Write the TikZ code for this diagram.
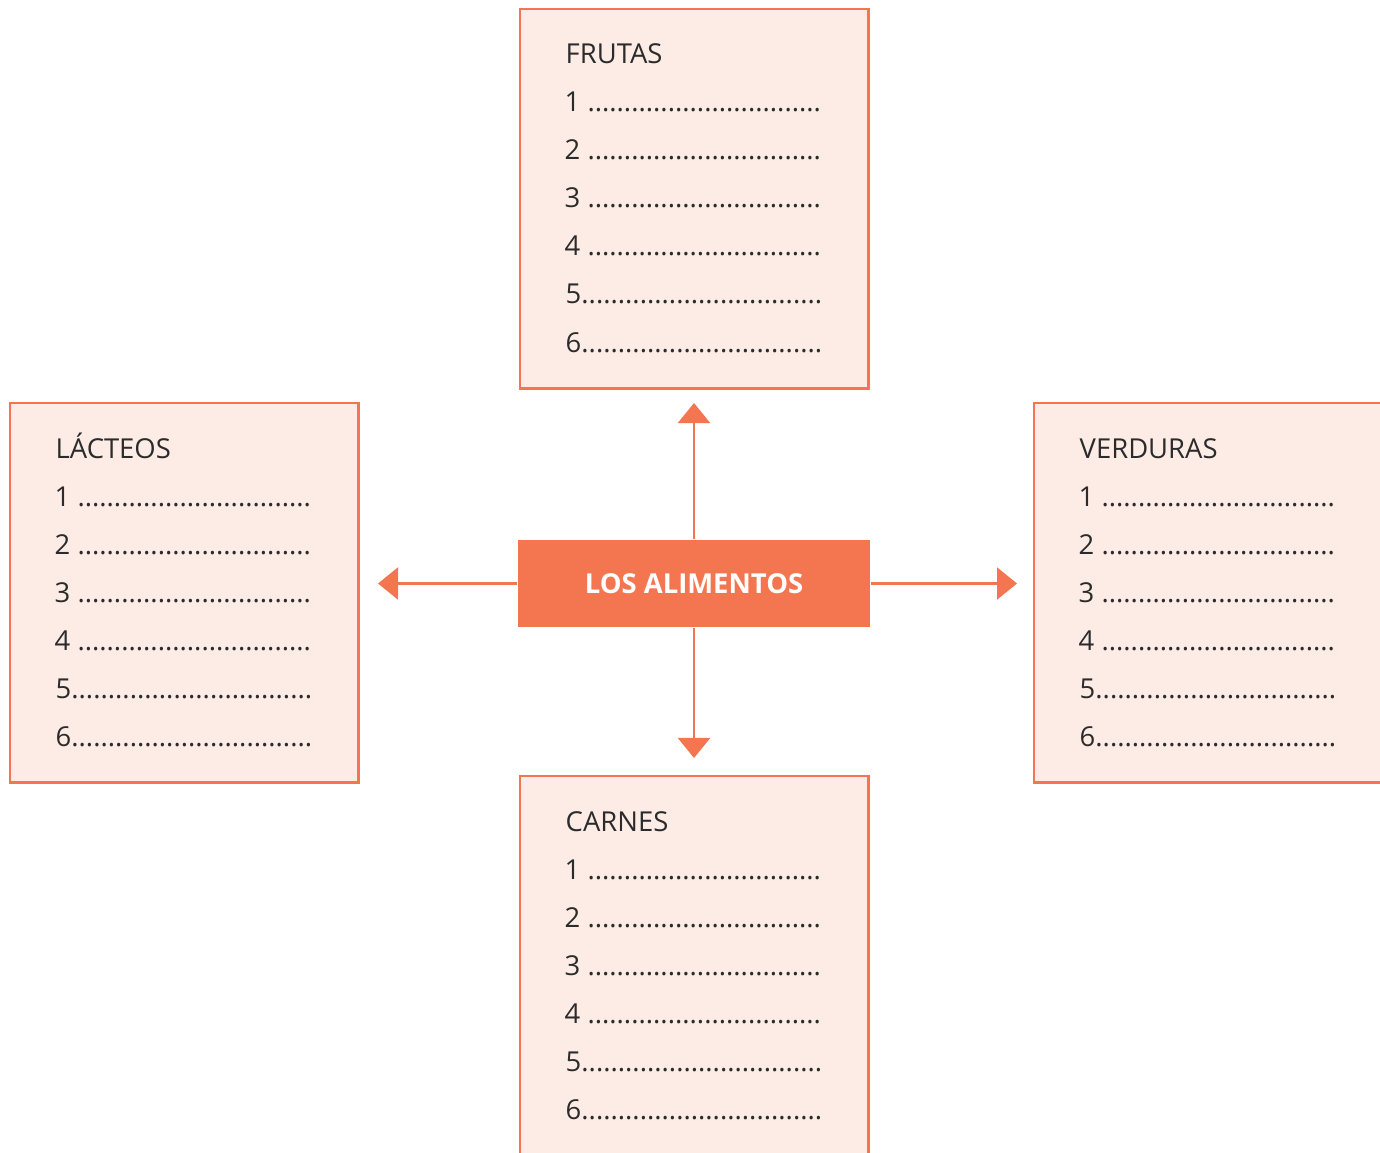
\documentclass[tikz,border=0pt]{standalone}
\usepackage{fontspec}
\setmainfont{Open Sans}
\usetikzlibrary{arrows.meta}
\definecolor{naranja}{HTML}{F47650}
\definecolor{rosado}{HTML}{FDECE6}
\definecolor{tinta}{HTML}{2B2B2B}
\tikzset{
  caja/.style={draw=naranja, fill=rosado, line width=0.7pt, minimum width=3.48cm, minimum height=3.79cm, anchor=north west, inner sep=0},
  texto/.style={anchor=base west, inner sep=0, text=tinta, font=\fontsize{7.8}{9}\selectfont},
  centro/.style={fill=naranja, minimum width=3.52cm, minimum height=0.87cm, inner sep=0, text=white, font=\fontsize{7.8}{9}\selectfont\bfseries},
  flecha/.style={draw=naranja, line width=0.6pt, -{Triangle[width=0.32cm,length=0.2cm]}},
}
% caja con titulo y seis renglones: nombre, x, y, titulo
\newcommand{\listacaja}[4]{
  \node[caja] (#1) at (#2,#3) {};
  \node[texto] (#1-t) at ({#2+46},{#3+56}) {#4};
  \foreach \i in {1,...,4}
    \node[texto] (#1-\i) at ({#2+45},{#3+104+48*(\i-1)}) {\i\ ................................};
  \foreach \i in {5,6}
    \node[texto] (#1-\i) at ({#2+46},{#3+104+48*(\i-1)}) {\i.................................};
}
\begin{document}
\begin{tikzpicture}[x=0.01cm, y=-0.01cm]
  \useasboundingbox (0,0) rectangle (1380,1152);
  \listacaja{frutas}{519}{8}{FRUTAS}
  \listacaja{lacteos}{9}{402}{LÁCTEOS}
  \listacaja{verduras}{1033}{402}{VERDURAS}
  \listacaja{carnes}{519}{775}{CARNES}
  \node[centro] (alim) at (694,583.5) {LOS ALIMENTOS};
  \coordinate (arriba) at (694,403);
  \coordinate (abajo) at (694,758);
  \coordinate (izq) at (378,583.5);
  \coordinate (der) at (1017,583.5);
  \draw[flecha] (alim.north) -- (arriba);
  \draw[flecha] (alim.south) -- (abajo);
  \draw[flecha] (alim.west) -- (izq);
  \draw[flecha] (alim.east) -- (der);
\end{tikzpicture}
\end{document}
